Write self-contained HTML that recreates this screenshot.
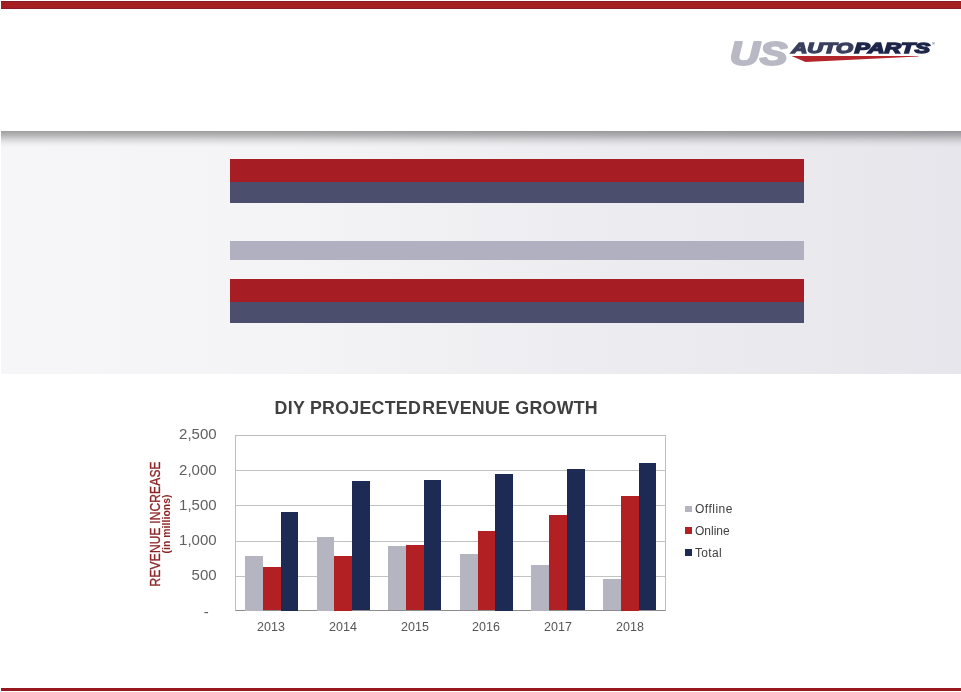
<!DOCTYPE html>
<html lang="en">
<head>
<meta charset="utf-8">
<title>DIY Projected Revenue Growth</title>
<style>
html,body{margin:0;padding:0;background:#fff;}
body{width:961px;height:692px;position:relative;overflow:hidden;font-family:"Liberation Sans",Arial,sans-serif;}
.abs{position:absolute;}
#topbar{left:1px;top:1px;width:960px;height:8px;background:linear-gradient(#7e1a22 0,#a21f24 1.5px,#a81f1f 4px,#a21f24 6.5px,#7e1a22 8px);}
#botbar{left:1px;top:688px;width:960px;height:3px;background:#96191f;}
#band{left:1px;top:131px;width:960px;height:243px;background:linear-gradient(90deg,#f6f6f8 0,#f4f4f6 30%,#ececf0 65%,#e6e6ec 100%);}
#bandshadow{left:1px;top:131px;width:960px;height:18px;background:linear-gradient(rgba(0,0,0,.36) 0,rgba(0,0,0,.32) 1.5px,rgba(0,0,0,.25) 4.5px,rgba(0,0,0,.13) 8.5px,rgba(0,0,0,.045) 12.5px,rgba(0,0,0,.012) 15px,rgba(0,0,0,0) 18px);}
.r{background:#a61d23;}
.n{background:#4b4e6c;}
.l{background:#b0b0c0;}
.bar{left:230px;width:574px;}
.ylab{width:60px;text-align:right;left:156.6px;font-size:15px;color:#606060;line-height:16px;height:16px;}
.xlab{width:60px;text-align:center;font-size:12.5px;color:#555;line-height:14px;top:619.7px;}
.grid{left:236px;width:430px;height:1px;background:#c2c2c2;}
.off{background:#b5b5c1;}
.on{background:#b32023;}
.tot{background:#1d2a54;}
.leg{font-size:12px;color:#404040;left:695px;line-height:14px;}
.sq{left:685px;width:7.3px;height:6.8px;}
</style>
</head>
<body>
<div class="abs" id="topbar"></div>
<div class="abs" id="band"></div>
<div class="abs" id="bandshadow"></div>

<div class="abs bar r" style="top:159px;height:23px;"></div>
<div class="abs bar n" style="top:182px;height:20.5px;"></div>
<div class="abs bar l" style="top:241px;height:18.5px;"></div>
<div class="abs bar r" style="top:279px;height:23px;"></div>
<div class="abs bar n" style="top:302px;height:20.5px;"></div>

<!-- logo -->
<svg class="abs" style="left:720px;top:30px;" width="230" height="50" viewBox="720 30 230 50">
  <text x="729.8" y="64.8" font-family="Liberation Sans, Arial, sans-serif" font-weight="bold" font-style="italic" font-size="33.2" fill="#b9b9c5" stroke="#b9b9c5" stroke-width="2" stroke-linejoin="round" textLength="57.6" lengthAdjust="spacingAndGlyphs">US</text>
  <text x="791.5" y="53.2" font-family="Liberation Sans, Arial, sans-serif" font-weight="bold" font-style="italic" font-size="15.4" fill="#3a3f5e" stroke="#3a3f5e" stroke-width="1.4" textLength="61.5" lengthAdjust="spacingAndGlyphs">AUTO</text>
  <text x="854.5" y="53.2" font-family="Liberation Sans, Arial, sans-serif" font-weight="bold" font-style="italic" font-size="15.4" fill="#1d2549" stroke="#1d2549" stroke-width="1.4" textLength="75.5" lengthAdjust="spacingAndGlyphs">PARTS</text>
  <text x="932" y="45" font-family="Liberation Sans, Arial, sans-serif" font-size="4" fill="#1d2549">®</text>
  <path d="M791.5 56 L918.5 56 L918.5 56.4 L805.5 62.1 Z" fill="#b2252b"/>
</svg>

<!-- chart -->
<div class="abs" style="left:274.6px;top:397.4px;font-size:17.8px;font-weight:bold;color:#404040;white-space:nowrap;line-height:22px;letter-spacing:0.27px;">DIY PROJECTED<span style="margin-left:-4px"> </span>REVENUE GROWTH</div>

<div class="abs ylab" style="top:426.3px;">2,500</div>
<div class="abs ylab" style="top:461.5px;">2,000</div>
<div class="abs ylab" style="top:496.8px;">1,500</div>
<div class="abs ylab" style="top:532.2px;">1,000</div>
<div class="abs ylab" style="top:567.4px;">500</div>
<div class="abs ylab" style="top:603.5px;left:148.7px;">-</div>

<div class="abs" style="left:235px;top:435px;width:431px;height:176px;box-sizing:border-box;border:1px solid #bdbdbd;border-bottom-color:#8c8c8c;"></div>
<div class="abs grid" style="top:470px;"></div>
<div class="abs grid" style="top:505px;"></div>
<div class="abs grid" style="top:541px;"></div>
<div class="abs grid" style="top:576px;"></div>

<div class="abs off" style="left:245.0px;top:556.0px;width:17.8px;height:54.5px;"></div>
<div class="abs on" style="left:262.8px;top:567.3px;width:17.8px;height:43.2px;"></div>
<div class="abs tot" style="left:280.5px;top:512.0px;width:17.8px;height:98.5px;"></div>
<div class="abs off" style="left:316.6px;top:537.0px;width:17.8px;height:73.5px;"></div>
<div class="abs on" style="left:334.4px;top:556.0px;width:17.8px;height:54.5px;"></div>
<div class="abs tot" style="left:352.1px;top:481.3px;width:17.8px;height:129.2px;"></div>
<div class="abs off" style="left:388.2px;top:546.3px;width:17.8px;height:64.2px;"></div>
<div class="abs on" style="left:405.9px;top:545.3px;width:17.8px;height:65.2px;"></div>
<div class="abs tot" style="left:423.7px;top:480.3px;width:17.8px;height:130.2px;"></div>
<div class="abs off" style="left:459.8px;top:554.3px;width:17.8px;height:56.2px;"></div>
<div class="abs on" style="left:477.5px;top:531.3px;width:17.8px;height:79.2px;"></div>
<div class="abs tot" style="left:495.3px;top:474.0px;width:17.8px;height:136.5px;"></div>
<div class="abs off" style="left:531.4px;top:565.0px;width:17.8px;height:45.5px;"></div>
<div class="abs on" style="left:549.1px;top:515.3px;width:17.8px;height:95.2px;"></div>
<div class="abs tot" style="left:566.9px;top:469.3px;width:17.8px;height:141.2px;"></div>
<div class="abs off" style="left:603.0px;top:579.3px;width:17.8px;height:31.2px;"></div>
<div class="abs on" style="left:620.8px;top:496.0px;width:17.8px;height:114.5px;"></div>
<div class="abs tot" style="left:638.5px;top:463.3px;width:17.8px;height:147.2px;"></div>

<div class="abs xlab" style="left:241px;">2013</div>
<div class="abs xlab" style="left:313px;">2014</div>
<div class="abs xlab" style="left:385px;">2015</div>
<div class="abs xlab" style="left:456px;">2016</div>
<div class="abs xlab" style="left:528px;">2017</div>
<div class="abs xlab" style="left:600px;">2018</div>

<div class="abs sq off" style="top:505.6px;"></div>
<div class="abs sq on" style="top:527px;"></div>
<div class="abs sq tot" style="top:549px;"></div>
<div class="abs leg" style="top:502.1px;letter-spacing:.5px;">Offline</div>
<div class="abs leg" style="top:524px;">Online</div>
<div class="abs leg" style="top:546px;letter-spacing:.3px;">Total</div>

<svg class="abs" style="left:140px;top:440px;" width="40" height="170" viewBox="140 440 40 170">
  <text transform="translate(160,586.4) rotate(-90) scale(0.82,1)" font-family="Liberation Sans, Arial, sans-serif" font-size="14.6" fill="#8c2526" stroke="#8c2526" stroke-width="0.35" textLength="152.4" lengthAdjust="spacing">REVENUE INCREASE</text>
  <text transform="translate(169.6,553.6) rotate(-90)" font-family="Liberation Sans, Arial, sans-serif" font-size="10.4" font-weight="bold" fill="#8c2526" textLength="59.2" lengthAdjust="spacing">(in millions)</text>
</svg>

<div class="abs" id="botbar"></div>
</body>
</html>
